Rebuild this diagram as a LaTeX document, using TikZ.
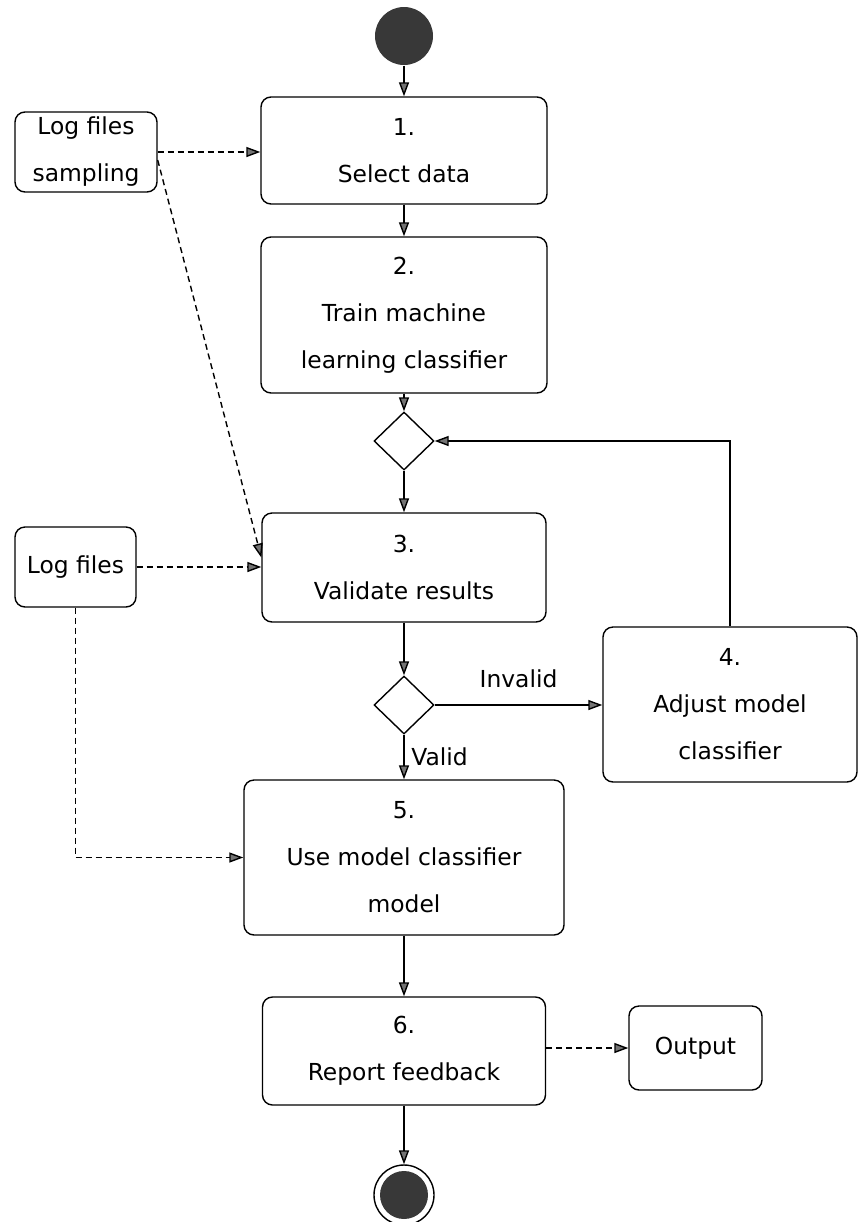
\documentclass[tikz,border=0pt]{standalone}
\usepackage{fontspec}
\setmainfont{DejaVu Sans}
\usetikzlibrary{arrows.meta,shapes.geometric}
\tikzset{
action/.style = { draw, rounded corners = 5pt, align = center, inner sep = 1pt },
datanode/.style = { action },
choice/.style = { diamond, draw, inner sep = 0pt, minimum width = 30pt, minimum height = 29pt },
startstate/.style = { circle, fill = black!78, minimum size = 29pt, inner sep = 0pt },
endstate/.style = { circle, draw, minimum size = 30pt, inner sep = 0pt,
  path picture = {\fill[black!78] (path picture bounding box.center) circle (12pt);} },
flow/.style = { -> },
dataflow/.style = { ->, dash pattern = on 3pt off 2pt }
}

\begin{document}
\begin{tikzpicture}[x=0.5pt, y=-0.5pt, line width=0.7pt,
  > = {Triangle[length=7pt,width=5pt,fill=black!55]},
  font=\fontsize{11.7}{23.5}\selectfont]
	\useasboundingbox (0,0) rectangle (858,1222);
	% main activities
	\node[startstate] (start) at (404,36) {};
	\node[action, minimum width=143pt, minimum height=53.5pt] (select) at (404,150.5) {1.\\Select data};
	\node[action, minimum width=143pt, minimum height=78pt] (train) at (404,315) {2.\\Train machine\\learning classifier};
	\node[choice] (check) at (404,441) {};
	\node[action, minimum width=142pt, minimum height=54.5pt] (validate) at (404,567.5) {3.\\Validate results};
	\node[choice] (decide) at (404,705) {};
	\node[action, minimum width=127pt, minimum height=77.5pt] (adjust) at (730,704.5) {4.\\Adjust model\\classifier};
	\node[action, minimum width=160pt, minimum height=77.5pt] (use) at (404,857.5) {5.\\Use model classifier\\model};
	\node[action, minimum width=141.5pt, minimum height=54pt] (report) at (404,1051) {6.\\Report feedback};
	\node[endstate] (end) at (404,1195) {};
	% data objects
	\node[datanode, minimum width=71pt, minimum height=40pt] (sampling) at (86,152) {Log files\\sampling};
	\node[datanode, minimum width=60.5pt, minimum height=40pt] (logs) at (75.5,567) {Log files};
	\node[datanode, minimum width=66.5pt, minimum height=42pt] (output) at (695.5,1048) {Output};

	\draw[flow] (start) -- (select);
	\draw[flow] (select) -- (train);
	\draw[flow] (train) -- (check);
	\draw[flow] (check) -- (validate);
	\draw[flow] (validate) -- (decide);
	\draw[flow] (decide.east) -- node[above=5pt] {Invalid} (decide.east -| adjust.west);
	\draw[flow] (decide) -- node[right=0pt] {Valid} (use);
	\draw[flow] (use) -- (report);
	\draw[flow] (report) -- (end);
	\draw[flow] (adjust.north) |- (check.east);

	\draw[dataflow] (sampling.east) -- (sampling.east -| select.west);
	\draw[dataflow] ([yshift=-4pt]sampling.east) -- ([yshift=5pt]validate.west);
	\draw[dataflow] (logs.east) -- (logs.east -| validate.west);
	\draw[dataflow] (logs.south) |- (use.west);
	\draw[dataflow] (report.east |- output.west) -- (output.west);
\end{tikzpicture}
\end{document}
